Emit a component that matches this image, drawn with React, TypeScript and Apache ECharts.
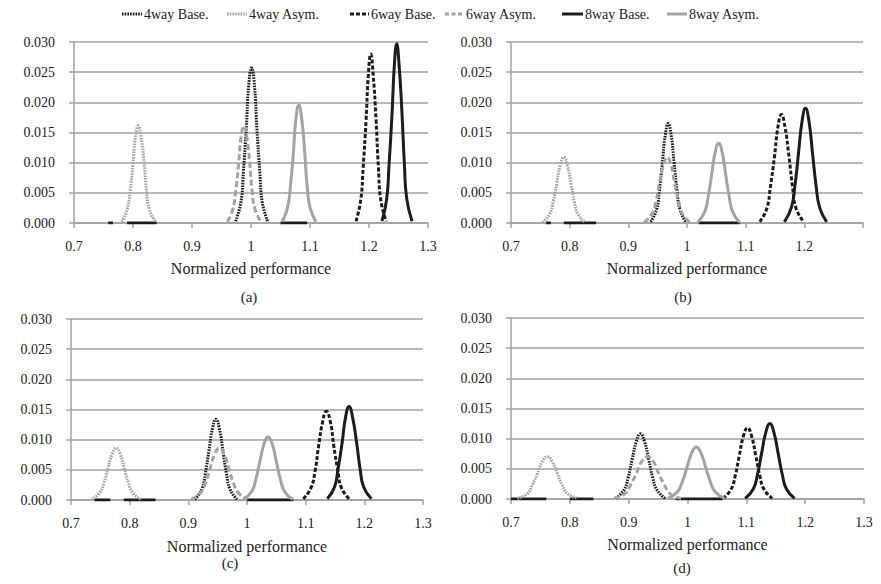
import React, { useEffect, useRef } from "react";
import * as echarts from "echarts";

type P = [number, number];

// Panel (a)
const A_4WAY_BASE: P[] = [[0.974,0.0003],[0.983,0.0035],[0.987,0.0084],[0.992,0.0156],[0.996,0.0227],[1.001,0.0257],[1.006,0.0227],[1.010,0.0156],[1.015,0.0084],[1.019,0.0035],[1.028,0.0003]];
const A_4WAY_ASYM: P[] = [[0.781,0.0002],[0.790,0.0022],[0.795,0.0052],[0.800,0.0098],[0.804,0.0142],[0.809,0.0161],[0.814,0.0142],[0.819,0.0098],[0.823,0.0052],[0.828,0.0022],[0.838,0.0002]];
const A_6WAY_BASE: P[] = [[1.178,0.0003],[1.186,0.0038],[1.190,0.0091],[1.195,0.0170],[1.199,0.0247],[1.203,0.0280],[1.207,0.0247],[1.212,0.0170],[1.216,0.0091],[1.220,0.0038],[1.229,0.0003]];
const A_6WAY_ASYM: P[] = [[0.960,0.0002],[0.969,0.0022],[0.974,0.0052],[0.979,0.0098],[0.983,0.0142],[0.988,0.0161],[0.993,0.0142],[0.998,0.0098],[1.002,0.0052],[1.007,0.0022],[1.017,0.0002]];
const A_8WAY_BASE: P[] = [[1.222,0.0003],[1.230,0.0040],[1.234,0.0097],[1.239,0.0180],[1.243,0.0262],[1.247,0.0297],[1.251,0.0262],[1.256,0.0180],[1.260,0.0097],[1.264,0.0040],[1.273,0.0003]];
const A_8WAY_ASYM: P[] = [[1.053,0.0002],[1.062,0.0026],[1.067,0.0063],[1.072,0.0118],[1.076,0.0172],[1.081,0.0195],[1.086,0.0172],[1.091,0.0118],[1.095,0.0063],[1.100,0.0026],[1.110,0.0002]];
const A_BASELINE: (P | string[])[] = [[0.758,0],[0.766,0],["-","-"],[0.79,0],[0.84,0],["-","-"],[1.05,0],[1.095,0]];

// Panel (b)
const B_4WAY_BASE: P[] = [[0.938,0.0002],[0.948,0.0022],[0.953,0.0054],[0.958,0.0100],[0.963,0.0146],[0.968,0.0165],[0.973,0.0146],[0.978,0.0100],[0.983,0.0054],[0.988,0.0022],[0.998,0.0002]];
const B_4WAY_ASYM: P[] = [[0.754,0.0001],[0.766,0.0015],[0.772,0.0035],[0.778,0.0066],[0.784,0.0096],[0.790,0.0109],[0.796,0.0096],[0.802,0.0066],[0.808,0.0035],[0.814,0.0015],[0.826,0.0001]];
const B_6WAY_BASE: P[] = [[1.124,0.0002],[1.136,0.0024],[1.142,0.0059],[1.149,0.0109],[1.155,0.0159],[1.161,0.0180],[1.167,0.0159],[1.174,0.0109],[1.180,0.0059],[1.186,0.0024],[1.199,0.0002]];
const B_6WAY_ASYM: P[] = [[0.927,0.0001],[0.940,0.0015],[0.947,0.0035],[0.953,0.0066],[0.960,0.0096],[0.966,0.0109],[0.973,0.0096],[0.979,0.0066],[0.986,0.0035],[0.992,0.0015],[1.005,0.0001]];
const B_8WAY_BASE: P[] = [[1.166,0.0002],[1.178,0.0026],[1.184,0.0062],[1.190,0.0115],[1.196,0.0168],[1.202,0.0190],[1.208,0.0168],[1.214,0.0115],[1.220,0.0062],[1.226,0.0026],[1.238,0.0002]];
const B_8WAY_ASYM: P[] = [[1.018,0.0001],[1.030,0.0018],[1.036,0.0043],[1.042,0.0080],[1.048,0.0117],[1.054,0.0132],[1.060,0.0117],[1.066,0.0080],[1.072,0.0043],[1.078,0.0018],[1.090,0.0001]];
const B_BASELINE: (P | string[])[] = [[0.76,0],[0.768,0],["-","-"],[0.79,0],[0.845,0],["-","-"],[1.02,0],[1.09,0]];

// Panel (c)
const C_4WAY_BASE: P[] = [[0.911,0.0001],[0.923,0.0018],[0.929,0.0044],[0.935,0.0081],[0.941,0.0118],[0.947,0.0134],[0.953,0.0118],[0.959,0.0081],[0.965,0.0044],[0.971,0.0018],[0.983,0.0001]];
const C_4WAY_ASYM: P[] = [[0.735,0.0001],[0.749,0.0012],[0.756,0.0028],[0.763,0.0052],[0.770,0.0076],[0.777,0.0086],[0.784,0.0076],[0.791,0.0052],[0.798,0.0028],[0.805,0.0012],[0.819,0.0001]];
const C_6WAY_BASE: P[] = [[1.096,0.0002],[1.109,0.0020],[1.116,0.0048],[1.122,0.0089],[1.129,0.0130],[1.135,0.0147],[1.142,0.0130],[1.148,0.0089],[1.155,0.0048],[1.161,0.0020],[1.174,0.0002]];
const C_6WAY_ASYM: P[] = [[0.905,0.0001],[0.921,0.0012],[0.929,0.0028],[0.937,0.0052],[0.945,0.0076],[0.953,0.0086],[0.961,0.0076],[0.969,0.0052],[0.977,0.0028],[0.985,0.0012],[1.001,0.0001]];
const C_8WAY_BASE: P[] = [[1.137,0.0002],[1.149,0.0021],[1.155,0.0050],[1.162,0.0094],[1.168,0.0137],[1.174,0.0155],[1.180,0.0137],[1.187,0.0094],[1.193,0.0050],[1.199,0.0021],[1.212,0.0002]];
const C_8WAY_ASYM: P[] = [[0.994,0.0001],[1.008,0.0014],[1.015,0.0034],[1.022,0.0064],[1.029,0.0093],[1.036,0.0105],[1.043,0.0093],[1.050,0.0064],[1.057,0.0034],[1.064,0.0014],[1.078,0.0001]];
const C_BASELINE: (P | string[])[] = [[0.74,0],[0.767,0],["-","-"],[0.79,0],[0.844,0],["-","-"],[1.0,0],[1.079,0]];

// Panel (d)
const D_4WAY_BASE: P[] = [[0.878,0.0001],[0.892,0.0015],[0.899,0.0035],[0.906,0.0066],[0.913,0.0095],[0.920,0.0108],[0.927,0.0095],[0.934,0.0066],[0.941,0.0035],[0.948,0.0015],[0.962,0.0001]];
const D_4WAY_ASYM: P[] = [[0.711,0.0001],[0.728,0.0009],[0.736,0.0023],[0.745,0.0042],[0.753,0.0062],[0.762,0.0070],[0.770,0.0062],[0.779,0.0042],[0.787,0.0023],[0.796,0.0009],[0.813,0.0001]];
const D_6WAY_BASE: P[] = [[1.060,0.0001],[1.074,0.0016],[1.081,0.0038],[1.088,0.0072],[1.095,0.0104],[1.102,0.0118],[1.109,0.0104],[1.116,0.0072],[1.123,0.0038],[1.130,0.0016],[1.144,0.0001]];
const D_6WAY_ASYM: P[] = [[0.875,0.0001],[0.894,0.0009],[0.903,0.0023],[0.913,0.0042],[0.922,0.0062],[0.932,0.0070],[0.942,0.0062],[0.951,0.0042],[0.961,0.0023],[0.970,0.0009],[0.989,0.0001]];
const D_8WAY_BASE: P[] = [[1.098,0.0001],[1.112,0.0017],[1.119,0.0041],[1.126,0.0076],[1.133,0.0110],[1.140,0.0125],[1.147,0.0110],[1.154,0.0076],[1.161,0.0041],[1.168,0.0017],[1.182,0.0001]];
const D_8WAY_ASYM: P[] = [[0.967,0.0001],[0.983,0.0012],[0.991,0.0028],[0.999,0.0052],[1.007,0.0076],[1.015,0.0086],[1.023,0.0076],[1.031,0.0052],[1.039,0.0028],[1.047,0.0012],[1.063,0.0001]];
const D_BASELINE: (P | string[])[] = [[0.70,0],[0.76,0],["-","-"],[0.80,0],[0.84,0],["-","-"],[0.98,0],[1.06,0]];

const SERIES_NAMES = ["4way Base.", "4way Asym.", "6way Base.", "6way Asym.", "8way Base.", "8way Asym."];
const PANEL_LABELS = ["(a)", "(b)", "(c)", "(d)"];
const X_NAME = "Normalized performance";

const PANEL_DATA = [
  [A_4WAY_BASE, A_4WAY_ASYM, A_6WAY_BASE, A_6WAY_ASYM, A_8WAY_BASE, A_8WAY_ASYM],
  [B_4WAY_BASE, B_4WAY_ASYM, B_6WAY_BASE, B_6WAY_ASYM, B_8WAY_BASE, B_8WAY_ASYM],
  [C_4WAY_BASE, C_4WAY_ASYM, C_6WAY_BASE, C_6WAY_ASYM, C_8WAY_BASE, C_8WAY_ASYM],
  [D_4WAY_BASE, D_4WAY_ASYM, D_6WAY_BASE, D_6WAY_ASYM, D_8WAY_BASE, D_8WAY_ASYM],
];
const BASELINES = [A_BASELINE, B_BASELINE, C_BASELINE, D_BASELINE];

const FONT = "Liberation Serif";
const TEXT = "#222";
const BLACK = "#1c1c1c";
const GRAY = "#a3a3a3";
const AXIS_GRAY = "#a0a0a0";

const STYLES: { color: string; type: any; dash: number[] | null }[] = [
  { color: BLACK, type: [1.6, 1.1], dash: [1.6, 1.1] },
  { color: GRAY, type: [1.6, 1.1], dash: [1.6, 1.1] },
  { color: BLACK, type: [4, 2], dash: [4, 2] },
  { color: GRAY, type: [6, 3], dash: [4, 2.5] },
  { color: BLACK, type: "solid", dash: null },
  { color: GRAY, type: "solid", dash: null },
];

const GRIDS = [
  { left: 74, top: 42, width: 354, height: 181 },
  { left: 511, top: 42, width: 352, height: 181 },
  { left: 71, top: 319, width: 352, height: 181 },
  { left: 511, top: 318, width: 353, height: 181 },
];
const NAME_GAPS = [37, 37, 38, 37];
const LABEL_POS = [[249, 297], [683, 297], [230, 563], [682, 568]];
const LEGEND_ICON_X = [122, 227, 350, 445, 562, 667];
const LEGEND_ICON_W = [20, 20, 19, 19, 21, 20];
const LEGEND_Y = 14;

export default function App() {
  const ref = useRef<HTMLDivElement>(null);
  useEffect(() => {
    if (!ref.current) return;
    const chart = echarts.init(ref.current, null, { renderer: "svg" });
    const xAxis: any[] = [];
    const yAxis: any[] = [];
    const series: any[] = [];
    GRIDS.forEach((_, i) => {
      xAxis.push({
        gridIndex: i,
        type: "value",
        min: 0.7,
        max: 1.3,
        interval: 0.1,
        name: X_NAME,
        nameLocation: "middle",
        nameGap: NAME_GAPS[i],
        nameTextStyle: { fontFamily: FONT, fontSize: 16, color: TEXT },
        axisLine: { show: true, lineStyle: { color: AXIS_GRAY, width: 1.5 } },
        axisTick: { show: true, length: 5, lineStyle: { color: AXIS_GRAY, width: 1.5 } },
        splitLine: { show: false },
        axisLabel: {
          fontFamily: FONT,
          fontSize: 14,
          color: TEXT,
          margin: 16,
          formatter: (v: number) => {
            const r = Math.round(v * 10) / 10;
            if (i === 1 && r > 1.25) return "";
            return String(r);
          },
        },
      });
      yAxis.push({
        gridIndex: i,
        type: "value",
        min: 0,
        max: 0.03,
        interval: 0.005,
        axisLine: { show: true, lineStyle: { color: AXIS_GRAY, width: 1.5 } },
        axisTick: { show: true, length: 5, lineStyle: { color: AXIS_GRAY, width: 1.5 } },
        splitLine: { show: true, lineStyle: { color: AXIS_GRAY, width: 1.6 } },
        axisLabel: {
          fontFamily: FONT,
          fontSize: 14,
          color: TEXT,
          margin: 19,
          formatter: (v: number) => v.toFixed(3),
        },
      });
      series.push({
        type: "line",
        name: "_base" + i,
        xAxisIndex: i,
        yAxisIndex: i,
        data: BASELINES[i],
        symbol: "none",
        connectNulls: false,
        lineStyle: { color: BLACK, width: 3 },
        silent: true,
        z: 1,
      });
      PANEL_DATA[i].forEach((d, k) => {
        series.push({
          type: "line",
          name: SERIES_NAMES[k],
          xAxisIndex: i,
          yAxisIndex: i,
          data: d,
          symbol: "none",
          smooth: 0.5,
          color: STYLES[k].color,
          lineStyle: { color: STYLES[k].color, width: 3, type: STYLES[k].type, cap: "butt", join: "round" },
          z: 3,
        });
      });
    });
    const graphic: any[] = PANEL_LABELS.map((t, i) => ({
      type: "text",
      x: LABEL_POS[i][0],
      y: LABEL_POS[i][1],
      style: {
        text: t,
        fontFamily: FONT,
        fontSize: 15,
        fill: TEXT,
        textAlign: "center",
        textVerticalAlign: "middle",
      },
    }));
    SERIES_NAMES.forEach((n, k) => {
      const st = STYLES[k];
      graphic.push({
        type: "line",
        shape: { x1: LEGEND_ICON_X[k], y1: LEGEND_Y, x2: LEGEND_ICON_X[k] + LEGEND_ICON_W[k], y2: LEGEND_Y },
        style: { stroke: st.color, lineWidth: 3, lineDash: st.dash || undefined },
      });
      graphic.push({
        type: "text",
        x: LEGEND_ICON_X[k] + LEGEND_ICON_W[k] + 2,
        y: LEGEND_Y,
        style: {
          text: n,
          fontFamily: FONT,
          fontSize: 14,
          fill: TEXT,
          textAlign: "left",
          textVerticalAlign: "middle",
        },
      });
    });
    chart.setOption({
      animation: false,
      backgroundColor: "#fff",
      textStyle: { fontFamily: FONT },
      grid: GRIDS,
      xAxis,
      yAxis,
      graphic,
      series,
    });
    return () => chart.dispose();
  }, []);
  return (
    <div
      ref={ref}
      style={{ position: "absolute", left: 0, top: 0, width: 881, height: 584 }}
    />
  );
}
